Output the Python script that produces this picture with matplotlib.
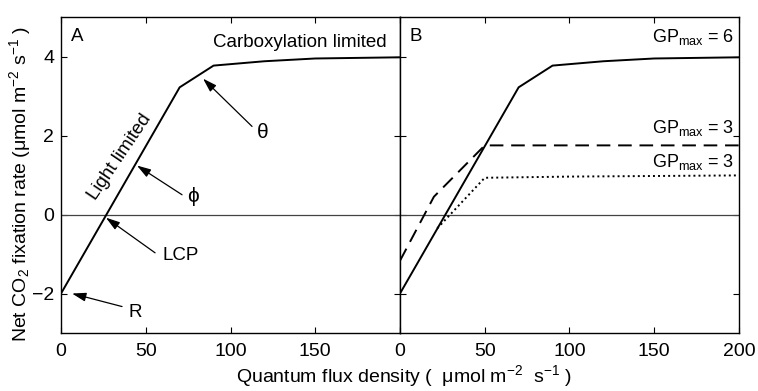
import matplotlib
matplotlib.use('Agg')
import matplotlib.pyplot as plt

plt.rcParams['font.family'] = ['Liberation Sans', 'DejaVu Sans']
plt.rcParams['mathtext.fontset'] = 'custom'
plt.rcParams['mathtext.rm'] = 'Liberation Sans'
plt.rcParams['mathtext.it'] = 'Liberation Sans'

# Panel A / B main curve (GPmax = 6)
x_main = [0, 70, 90, 120, 150, 200]
y_main = [-2.0, 3.22, 3.77, 3.88, 3.95, 3.98]

# Panel B: GPmax = 3 (dashed)
x_dash = [0, 20, 50, 200]
y_dash = [-1.17, 0.45, 1.75, 1.75]

# Panel B: GPmax = 3 (dotted)
x_dot = [22, 50, 100, 200]
y_dot = [-0.35, 0.93, 0.96, 0.99]

xticks = [0, 50, 100, 150, 200]
yticks = [-2, 0, 2, 4]

fig = plt.figure(figsize=(7.58, 3.91), dpi=100)
axA = fig.add_axes([0.0805, 0.1483, 0.4472, 0.8082])
axB = fig.add_axes([0.5277, 0.1483, 0.4472, 0.8082])

for ax in (axA, axB):
    ax.set_xlim(0, 200)
    ax.set_ylim(-3, 5)
    ax.set_xticks(xticks)
    ax.set_yticks(yticks)
    ax.axhline(0, color='#444444', lw=0.9)
    ax.tick_params(direction='in', top=True, right=True, length=4,
                   labelsize=14)
    ax.tick_params(axis='x', pad=7)
    ax.tick_params(axis='y', pad=5)
    for s in ax.spines.values():
        s.set_linewidth(1.0)
    ax.plot(x_main, y_main, color='black', lw=1.4)

axA.set_xticklabels(['0', '50', '100', '150', ''])
axB.set_yticklabels([])

axB.plot(x_dash, y_dash, color='black', lw=1.4, dashes=(7, 4))
axB.plot(x_dot, y_dot, color='black', lw=1.4, dashes=(1, 1.6))

fs = 13.5
axA.text(9.4, 4.5, 'A', fontsize=fs, va='center', ha='center')
axA.text(192, 4.35, 'Carboxylation limited', fontsize=fs, ha='right', va='center')
axA.text(34.5, 1.45, 'Light limited', fontsize=fs, rotation=56,
         ha='center', va='center', rotation_mode='anchor')

arr = dict(arrowstyle='-|>,head_length=0.7,head_width=0.22', color='black',
           lw=0.9, mutation_scale=12, shrinkA=0, shrinkB=0)
# arrows: (head, tail)
axA.annotate('', xy=(83.8, 3.44), xytext=(112.7, 2.23), arrowprops=arr)
axA.annotate('', xy=(44.8, 1.24), xytext=(71.4, 0.5), arrowprops=arr)
axA.annotate('', xy=(26.5, -0.08), xytext=(55.5, -0.97), arrowprops=arr)
axA.annotate('', xy=(6.5, -2.0), xytext=(36, -2.33), arrowprops=arr)
axA.text(119, 2.07, 'θ', fontsize=15, ha='center', va='center')
axA.text(78, 0.46, 'ϕ', fontsize=15, ha='center', va='center')
axA.text(70.5, -1.04, 'LCP', fontsize=fs, ha='center', va='center')
axA.text(43.7, -2.48, 'R', fontsize=fs, ha='center', va='center')

axB.text(9.4, 4.5, 'B', fontsize=fs, va='center', ha='center')
axB.text(197, 4.5, r'GP$_{\mathrm{max}}$ = 6', fontsize=13, ha='right', va='center')
axB.text(197, 2.2, r'GP$_{\mathrm{max}}$ = 3', fontsize=13, ha='right', va='center')
axB.text(197, 1.34, r'GP$_{\mathrm{max}}$ = 3', fontsize=13, ha='right', va='center')

fig.text(0.027, 0.53, r'Net CO$_2$ fixation rate (μmol m$^{-2}$ s$^{-1}$ )',
         rotation=90, fontsize=14, ha='center', va='center')
fig.text(0.533, 0.038, r'Quantum flux density (  μmol m$^{-2}$  s$^{-1}$ )',
         fontsize=14, ha='center', va='center')

fig.savefig('out.png', dpi=100)
